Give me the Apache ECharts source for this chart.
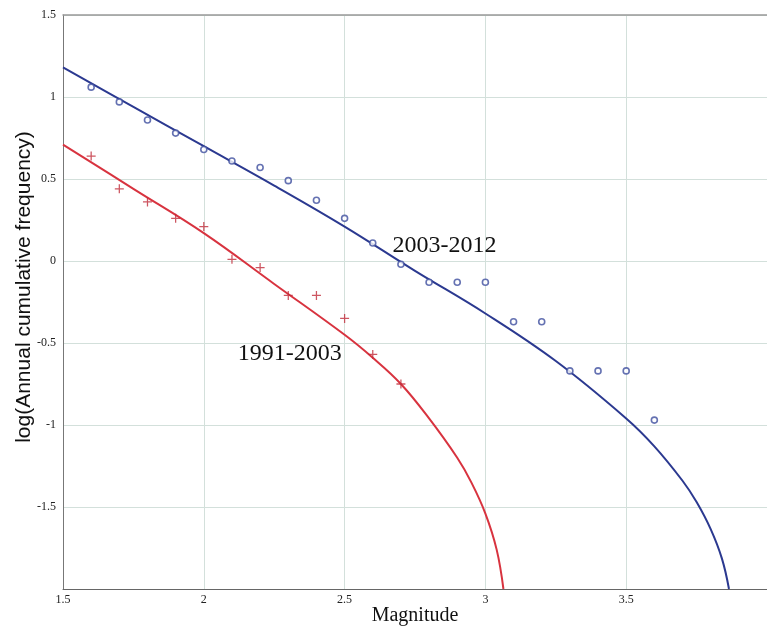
<!DOCTYPE html>
<html>
<head>
<meta charset="utf-8">
<script src="https://cdn.jsdelivr.net/npm/echarts@6/dist/echarts.min.js"></script>
<style>
html,body{margin:0;padding:0;background:#fff;}
#chart{width:767px;height:626px;}
</style>
</head>
<body>
<div id="chart"></div>
<script>
// Observed data: 1991-2003 (crosses)
const magnitudes1991 = [1.6, 1.7, 1.8, 1.9, 2.0, 2.1, 2.2, 2.3, 2.4, 2.5, 2.6, 2.7];
const logFreq1991 = [0.64, 0.44, 0.36, 0.26, 0.21, 0.01, -0.04, -0.21, -0.21, -0.35, -0.57, -0.75];

// Observed data: 2003-2012 (circles)
const magnitudes2003 = [1.6, 1.7, 1.8, 1.9, 2.0, 2.1, 2.2, 2.3, 2.4, 2.5, 2.6, 2.7, 2.8, 2.9, 3.0, 3.1, 3.2, 3.3, 3.4, 3.5, 3.6];
const logFreq2003 = [1.06, 0.97, 0.86, 0.78, 0.68, 0.61, 0.57, 0.49, 0.37, 0.26, 0.11, -0.02, -0.13, -0.13, -0.13, -0.37, -0.37, -0.67, -0.67, -0.67, -0.97];

// Fitted curves
const fitMagnitude1991 = [1.5, 1.75, 2.0, 2.25, 2.5, 2.6, 2.7, 2.8, 2.9, 2.95, 3.0, 3.04, 3.064];
const fitLog1991 = [0.71, 0.44, 0.17, -0.14, -0.45, -0.59, -0.75, -0.96, -1.2, -1.35, -1.54, -1.76, -2.0];
const fitMagnitude2003 = [1.5, 1.75, 2.0, 2.25, 2.5, 2.75, 3.0, 3.25, 3.5, 3.6, 3.7, 3.75, 3.8, 3.84, 3.865];
const fitLog2003 = [1.18, 0.94, 0.70, 0.46, 0.21, -0.06, -0.32, -0.61, -0.96, -1.13, -1.34, -1.47, -1.635, -1.815, -2.0];

// Curve annotations
const annotationNames = ['2003-2012', '1991-2003'];
const annotationX = [2.855, 2.305];
const annotationY = [0.095, -0.565];

// Axis ticks
const xTicks = [1.5, 2, 2.5, 3, 3.5, 4];
const yTicks = [-2, -1.5, -1, -0.5, 0, 0.5, 1, 1.5];

const zip = (a, b) => a.map((v, i) => [v, b[i]]);
const plusPath = 'path://M4.3,0 H5.7 V4.3 H10 V5.7 H5.7 V10 H4.3 V5.7 H0 V4.3 H4.3 Z';

const chart = echarts.init(document.getElementById('chart'), null, {renderer: 'canvas'});
const serif = 'Liberation Serif';
const tickStyle = {fontFamily: serif, fontSize: 12, color: '#222'};
const annLabel = {show: true, position: 'inside', formatter: p => p.name, fontFamily: serif, fontSize: 24, color: '#111'};

chart.setOption({
  backgroundColor: '#ffffff',
  animation: false,
  grid: {left: 63, top: 15, right: 0, bottom: 37, containLabel: false, outerBoundsMode: 'none'},
  xAxis: [{
    type: 'value',
    min: xTicks[0], max: xTicks[xTicks.length - 1], interval: 0.5,
    name: 'Magnitude',
    nameLocation: 'middle',
    nameGap: 17,
    nameMoveOverlap: false,
    nameTextStyle: {fontFamily: serif, fontSize: 20, color: '#111', verticalAlign: 'top'},
    axisLine: {show: true, onZero: false, lineStyle: {color: '#666', width: 1}},
    axisTick: {show: false},
    axisLabel: {
      ...tickStyle, margin: 5, showMaxLabel: false,
      formatter: v => String(v)
    },
    splitLine: {show: true, lineStyle: {color: '#d3e0db', width: 1}}
  }, {
    type: 'value',
    position: 'top',
    min: xTicks[0], max: xTicks[xTicks.length - 1],
    axisLine: {show: true, onZero: false, lineStyle: {color: '#999', width: 1.5}},
    axisTick: {show: false},
    axisLabel: {show: false},
    splitLine: {show: false}
  }],
  yAxis: {
    type: 'value',
    min: yTicks[0], max: yTicks[yTicks.length - 1], interval: 0.5,
    name: 'log(Annual cumulative frequency)',
    nameLocation: 'middle',
    nameGap: 28,
    nameMoveOverlap: false,
    nameRotate: 90,
    nameTextStyle: {fontFamily: 'Liberation Sans', fontSize: 21, color: '#111', padding: [0, 0, 0, 30]},
    axisLine: {show: true, onZero: false, lineStyle: {color: '#777', width: 1}},
    axisTick: {show: false},
    axisLabel: {
      ...tickStyle, margin: 7, showMinLabel: false,
      formatter: v => String(v)
    },
    splitLine: {show: true, lineStyle: {color: '#d3e0db', width: 1}}
  },
  series: [
    {
      name: 'fit 1991-2003', type: 'line', data: zip(fitMagnitude1991, fitLog1991),
      smooth: 0.4, showSymbol: false, symbol: 'none',
      lineStyle: {color: '#d8333f', width: 2}, z: 3,
      markPoint: {
        symbol: 'circle', symbolSize: 0, label: annLabel,
        data: [{name: annotationNames[1], coord: [annotationX[1], annotationY[1]]}]
      }
    },
    {
      name: 'fit 2003-2012', type: 'line', data: zip(fitMagnitude2003, fitLog2003),
      smooth: 0.4, showSymbol: false, symbol: 'none',
      lineStyle: {color: '#2b3990', width: 2}, z: 3,
      markPoint: {
        symbol: 'circle', symbolSize: 0, label: annLabel,
        data: [{name: annotationNames[0], coord: [annotationX[0], annotationY[0]]}]
      }
    },
    {
      name: '1991-2003', type: 'scatter', data: zip(magnitudes1991, logFreq1991),
      symbol: plusPath, symbolSize: 9,
      itemStyle: {color: '#c02c3a'}, z: 4
    },
    {
      name: '2003-2012', type: 'scatter', data: zip(magnitudes2003, logFreq2003),
      symbol: 'circle', symbolSize: 6,
      itemStyle: {color: '#ffffff', borderColor: '#3f4f9f', borderWidth: 1.6}, z: 4
    }
  ]
});
</script>
</body>
</html>
